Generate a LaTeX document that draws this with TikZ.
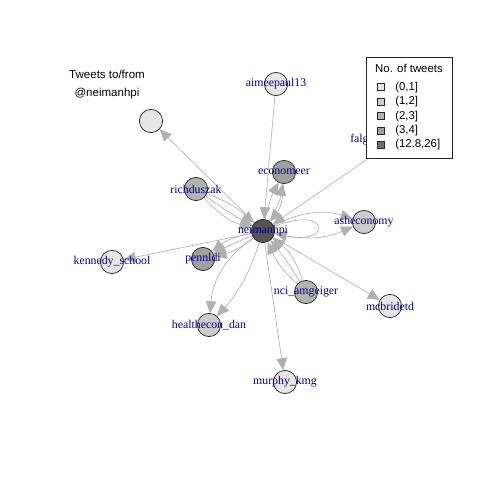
\documentclass[tikz,border=0pt]{standalone}
\usepackage{fontspec}
\newfontfamily\vlabfont{Liberation Serif}
\newfontfamily\keyfont{Liberation Sans}
\usetikzlibrary{arrows.meta, positioning}

\definecolor{tw1}{HTML}{E6E6E6}
\definecolor{tw2}{HTML}{CCCCCC}
\definecolor{tw3}{HTML}{B3B3B3}
\definecolor{tw4}{HTML}{A0A0A0}
\definecolor{tw5}{HTML}{707070}
\definecolor{hub}{HTML}{555555}
\definecolor{lblblue}{HTML}{00008B}
\definecolor{edgegray}{HTML}{B0B0B0}

\pgfdeclarelayer{background}
\pgfsetlayers{background,main}

\tikzset{
  vert/.style={circle, draw=black!85, line width=0.5pt, minimum size=0.58cm, inner sep=0pt},
  lbl/.style={text=lblblue, font=\vlabfont\fontsize{8.4}{9}\selectfont, inner sep=0pt},
  edge/.style={draw=edgegray, line width=0.45pt, -{Triangle[length=8.5pt,width=7.5pt]}},
  keybox/.style={draw=black!85, line width=0.5pt, minimum size=0.175cm, inner sep=0pt},
  keytxt/.style={font=\keyfont\fontsize{8.1}{9}\selectfont, inner sep=0pt, anchor=west}
}

\begin{document}
\begin{tikzpicture}[x=0.025cm, y=-0.025cm]
  \useasboundingbox (0,0) rectangle (480,480);
  % Vertices
  \foreach \name/\x/\y/\col/\txt in {
      neimanhpi/263/231/hub/neimanhpi,
      aimeepaul/276/84/tw1/aimeepaul13,
      economeer/284/172/tw4/economeer,
      richduszak/196/189/tw3/richduszak,
      nolabel/151/121/tw1/,
      asheconomy/364/222/tw2/asheconomy,
      falg/398/138/tw1/,
      kennedy/112/262/tw1/kennedy\_school,
      pennldi/203/259/tw4/pennldi,
      healthecon/209/325/tw2/healthecon\_dan,
      nci/306/292/tw3/nci\_amgeiger,
      mcbridetd/390/306/tw1/mcbridetd,
      murphy/285/382/tw1/murphy\_kmg} {
    \node[vert, fill=\col, label={[lbl]center:\txt}] (\name) at (\x,\y) {};
  }
  \node[lbl, anchor=west] (falglbl) at (350,140) {falg};

  % Edges
  \begin{pgfonlayer}{background}
    \draw[edge] (neimanhpi) -- (nolabel);
    \draw[edge] (aimeepaul) -- (neimanhpi);
    \draw[edge] (falg) -- (neimanhpi);
    \draw[edge] (neimanhpi) -- (kennedy);
    \draw[edge] (neimanhpi) -- (mcbridetd);
    \draw[edge] (neimanhpi) -- (murphy);
    \foreach \b in {-16,-4,10} {
      \draw[edge] (richduszak) to[bend left=\b] (neimanhpi);
    }
    \foreach \b in {-12,8} {
      \draw[edge] (neimanhpi) to[bend left=\b] (economeer);
    }
    \draw[edge] (economeer) to[bend left=18] (neimanhpi);
    \foreach \b in {-18,22} {
      \draw[edge] (neimanhpi) to[bend left=\b] (asheconomy);
    }
    \draw[edge] (neimanhpi) to[loop, out=22, in=-12, min distance=1.5cm] (neimanhpi);
    \foreach \b in {-14,-2,12} {
      \draw[edge] (neimanhpi) to[bend left=\b] (pennldi);
    }
    \draw[edge] (neimanhpi) to[bend right=25] (healthecon);
    \draw[edge] (neimanhpi) to[bend left=12] (healthecon);
    \foreach \b in {-18,-4,12} {
      \draw[edge] (nci) to[bend left=\b] (neimanhpi);
    }
  \end{pgfonlayer}

  % Title
  \node[font=\keyfont\fontsize{8.2}{12.8}\selectfont, align=center] (title) at (107,85)
    {Tweets to/from\\@neimanhpi};

  % Legend
  \draw[black!85, line width=0.5pt, fill=white] (366,57) rectangle (452,158);
  \node[font=\keyfont\fontsize{8.1}{9}\selectfont, inner sep=0pt] (keytitle) at (409,68) {No. of tweets};
  \foreach \c/\t [count=\i from 0] in {tw1/{(0,1]}, tw2/{(1,2]}, tw3/{(2,3]}, tw4/{(3,4]}, tw5/{(12.8,26]}} {
    \node[keybox, fill=\c] (key\i) at (381,{87.3+14.4*\i}) {};
    \node[keytxt] (keytxt\i) at (395,{87.3+14.4*\i}) {\t};
  }
\end{tikzpicture}
\end{document}
